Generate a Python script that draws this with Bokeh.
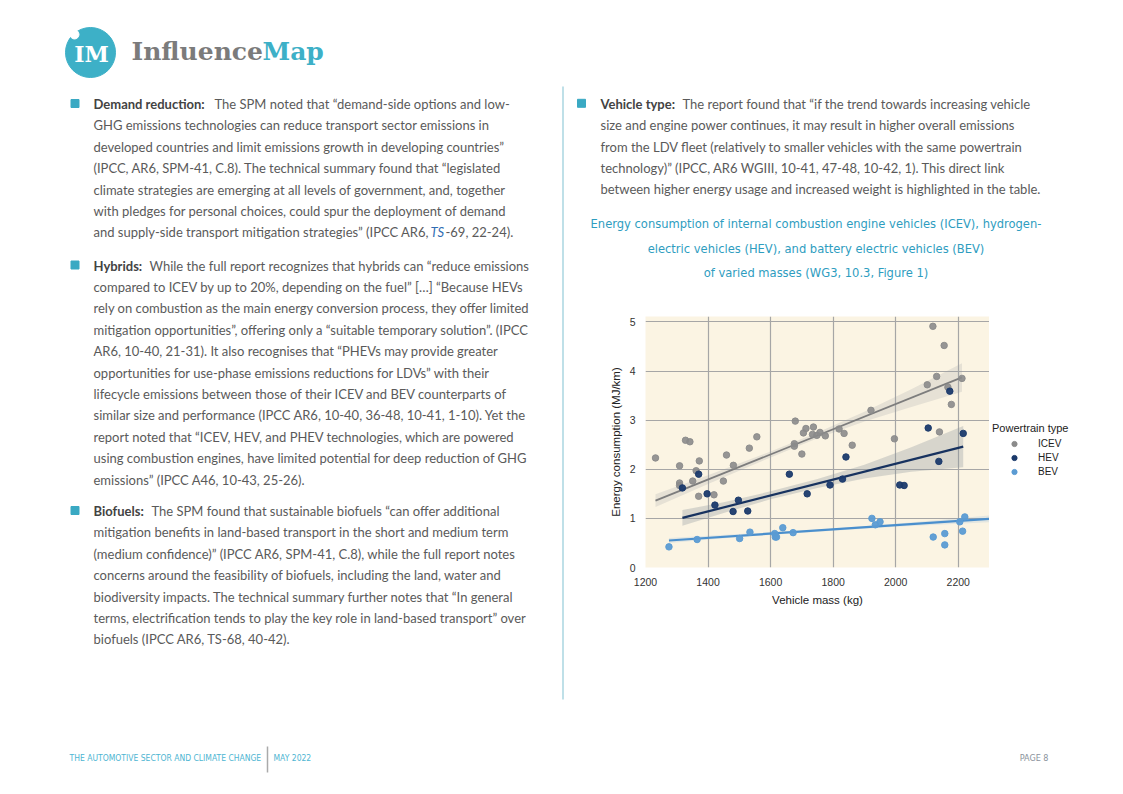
from bokeh.plotting import figure
from bokeh.layouts import row, column
from bokeh.models import Range1d, FixedTicker, Legend, LegendItem
from bokeh.core.properties import value
from bokeh.embed import file_html
from bokeh.resources import INLINE

# ---------------- data ----------------
icev_mass = [1232, 1309, 1328, 1342, 1309, 1309, 1351, 1362, 1372, 1370, 1459, 1449, 1481, 1419,
             1532, 1556, 1679, 1676, 1676, 1700, 1705, 1713, 1737, 1734, 1748, 1758, 1775, 1819,
             1835, 1861, 1921, 1996, 2101, 2131, 2119, 2155, 2167, 2178, 2140, 2212]
icev_energy = [2.23, 2.07, 2.59, 2.56, 1.72, 1.67, 1.76, 1.97, 2.17, 1.45, 2.29, 1.76, 2.08, 1.48,
               2.43, 2.66, 2.98, 2.52, 2.47, 2.31, 2.74, 2.83, 2.86, 2.71, 2.69, 2.75, 2.68, 2.82,
               2.73, 2.49, 3.20, 2.62, 3.72, 3.89, 4.91, 4.52, 3.67, 3.32, 2.76, 3.85]
hev_mass = [1318, 1370, 1397, 1422, 1480, 1497, 1527, 1660, 1717, 1790, 1830, 1841, 2013, 2027,
            2104, 2138, 2173, 2216]
hev_energy = [1.62, 1.90, 1.50, 1.27, 1.14, 1.37, 1.15, 1.90, 1.50, 1.68, 1.80, 2.25, 1.68, 1.67,
              2.84, 2.16, 3.59, 2.73]
bev_mass = [1275, 1365, 1501, 1534, 1613, 1615, 1619, 1639, 1672, 1924, 1935, 1950, 2120, 2157,
            2157, 2205, 2221, 2214]
bev_energy = [0.42, 0.57, 0.59, 0.72, 0.69, 0.62, 0.62, 0.81, 0.71, 1.00, 0.87, 0.93, 0.62, 0.69,
              0.46, 0.93, 1.03, 0.74]

# regression lines and confidence bands as drawn in the reference
icev_fit_x = [1232, 2212]
icev_fit_y = [1.36, 3.87]
icev_band_x = [1232, 1400, 1600, 1750, 1900, 2050, 2212]
icev_band_lo = [1.23, 1.70, 2.24, 2.63, 2.97, 3.27, 3.58]
icev_band_hi = [1.49, 1.88, 2.36, 2.75, 3.17, 3.63, 4.16]

hev_fit_x = [1318, 2216]
hev_fit_y = [1.01, 2.46]
hev_band_x = [1318, 1450, 1600, 1750, 1900, 2050, 2216]
hev_band_lo = [0.85, 1.11, 1.39, 1.62, 1.81, 1.95, 2.04]
hev_band_hi = [1.17, 1.33, 1.55, 1.80, 2.09, 2.45, 2.88]

bev_fit_x = [1275, 2300]
bev_fit_y = [0.55, 0.99]
bev_band_x = [1275, 1500, 1750, 2000, 2300]
bev_band_lo = [0.50, 0.62, 0.73, 0.83, 0.92]
bev_band_hi = [0.60, 0.68, 0.77, 0.89, 1.06]

x_ticks = [1200, 1400, 1600, 1800, 2000, 2200]
y_ticks = [0, 1, 2, 3, 4, 5]
series_names = ["ICEV", "HEV", "BEV"]
series_colors = ["#8b8b8b", "#1b3a6b", "#5b9bd3"]
legend_title = "Powertrain type"

title_lines = [
    "Energy consumption of internal combustion engine vehicles (ICEV), hydrogen-",
    "electric vehicles (HEV), and battery electric vehicles (BEV)",
    "of varied masses (WG3, 10.3, Figure 1)",
]

demand_label = "Demand reduction:"
demand_first = "The SPM noted that “demand-side options and low-"
demand_lines = [
    "GHG emissions technologies can reduce transport sector emissions in",
    "developed countries and limit emissions growth in developing countries”",
    "(IPCC, AR6, SPM-41, C.8). The technical summary found that “legislated",
    "climate strategies are emerging at all levels of government, and, together",
    "with pledges for personal choices, could spur the deployment of demand",
]
demand_last = ["and supply-side transport mitigation strategies” (IPCC AR6, ", "TS", "-69, 22-24)."]

hybrid_label = "Hybrids:"
hybrid_first = "While the full report recognizes that hybrids can “reduce emissions"
hybrid_lines = [
    "compared to ICEV by up to 20%, depending on the fuel” […] “Because HEVs",
    "rely on combustion as the main energy conversion process, they offer limited",
    "mitigation opportunities”, offering only a “suitable temporary solution”. (IPCC",
    "AR6, 10-40, 21-31). It also recognises that “PHEVs may provide greater",
    "opportunities for use-phase emissions reductions for LDVs” with their",
    "lifecycle emissions between those of their ICEV and BEV counterparts of",
    "similar size and performance (IPCC AR6, 10-40, 36-48, 10-41, 1-10). Yet the",
    "report noted that “ICEV, HEV, and PHEV technologies, which are powered",
    "using combustion engines, have limited potential for deep reduction of GHG",
    "emissions” (IPCC A46, 10-43, 25-26).",
]

bio_label = "Biofuels:"
bio_first = "The SPM found that sustainable biofuels “can offer additional"
bio_lines = [
    "mitigation benefits in land-based transport in the short and medium term",
    "(medium confidence)” (IPCC AR6, SPM-41, C.8), while the full report notes",
    "concerns around the feasibility of biofuels, including the land, water and",
    "biodiversity impacts. The technical summary further notes that “In general",
    "terms, electrification tends to play the key role in land-based transport” over",
    "biofuels (IPCC AR6, TS-68, 40-42).",
]

veh_label = "Vehicle type:"
veh_first = "The report found that “if the trend towards increasing vehicle"
veh_lines = [
    "size and engine power continues, it may result in higher overall emissions",
    "from the LDV fleet (relatively to smaller vehicles with the same powertrain",
    "technology)” (IPCC, AR6 WGIII, 10-41, 47-48, 10-42, 1). This direct link",
    "between higher energy usage and increased weight is highlighted in the table.",
]

footer_left = "THE AUTOMOTIVE SECTOR AND CLIMATE CHANGE"
footer_date = "MAY 2022"
footer_page = "PAGE 8"

# ---------------- styles ----------------
BODY = "#5a5a5a"
BOLD = "#434343"
TEAL = "#3aa9c3"
TITLE_C = "#2e9dbf"
FOOT_C = "#4db5d2"
BODY_FONT = "Lato"
NARROW = "Liberation Sans Narrow, DejaVu Sans Condensed, Liberation Sans"
FS = 13
LH = 21.4

SPLIT_X = 564      # left/right column boundary (page px)
PAGE_W = 1115
PAGE_H = 790
CH_TOP, CH_BOT = 300, 608   # chart canvas vertical extent
FRAME_L, FRAME_R = 645, 989  # chart plot-area horizontal extent


def page_fig(x0, x1, y0, y1):
    f = figure(width=x1 - x0, height=y1 - y0, x_range=Range1d(x0, x1), y_range=Range1d(y1, y0),
               output_backend="svg", toolbar_location=None, min_border=0, sizing_mode="fixed",
               frame_align=False,
               x_axis_location=None, y_axis_location=None, outline_line_color=None,
               background_fill_color="white", border_fill_color="white")
    f.grid.visible = False
    return f


def txt(f, xs, ys, ss, size=FS, color=BODY, font=BODY_FONT, style="normal", align="left"):
    f.text(x=xs, y=ys, text=ss, text_font=value(font), text_font_size=f"{size}px",
           text_color=color, text_font_style=style, text_align=align, text_baseline="middle")


def paragraph(f, x_text, x_rest, y0, label, first, lines, bullet_x):
    f.scatter(x=[bullet_x], y=[y0 - 0.5], marker="square", size=8, color=TEAL)
    txt(f, [x_text], [y0], [label], color=BOLD, style="bold")
    txt(f, [x_rest], [y0], [first])
    ys = [y0 + LH * (i + 1) for i in range(len(lines))]
    txt(f, [x_text] * len(lines), ys, lines)
    return y0 + LH * (len(lines) + 1)


# ---------------- left column ----------------
left = page_fig(0, SPLIT_X, 0, PAGE_H)
# logo
left.scatter(x=[90], y=[52], marker="circle", size=50, color="#3db0c7")
left.scatter(x=[74], y=[34], marker="circle", size=9, color="white")
txt(left, [91], [53], ["IM"], size=22, color="white", font="DejaVu Serif", style="bold", align="center")
txt(left, [131], [51], ["Influence"], size=25, color="#7b7b7b", font="DejaVu Serif", style="bold")
txt(left, [262], [51], ["Map"], size=25, color="#3db0c7", font="DejaVu Serif", style="bold")

ylast = paragraph(left, 93, 214, 103.5, demand_label, demand_first, demand_lines, 74.5)
txt(left, [93], [ylast], [demand_last[0]])
txt(left, [430], [ylast], [demand_last[1]], color="#2f6db3", style="italic")
txt(left, [445], [ylast], [demand_last[2]])

paragraph(left, 93, 149, 265, hybrid_label, hybrid_first, hybrid_lines, 74.5)
paragraph(left, 93, 151, 510.5, bio_label, bio_first, bio_lines, 74.5)

# divider and footer
left.line(x=[562.5, 562.5], y=[86, 699], line_color="#bfe0e8", line_width=2)
txt(left, [69], [757], [footer_left], size=8.5, color=FOOT_C, font=NARROW)
left.line(x=[267, 267], y=[746, 772], line_color="#aaaaaa", line_width=1.5)
txt(left, [273], [757], [footer_date], size=8.5, color=FOOT_C, font=NARROW)

# ---------------- right column, top ----------------
rtop = page_fig(SPLIT_X, PAGE_W, 0, CH_TOP)
paragraph(rtop, 600, 682, 103.3, veh_label, veh_first, veh_lines, 581)
txt(rtop, [815.5] * 3, [223, 248, 272], title_lines, size=12.8, color=TITLE_C, font=NARROW, align="center")

# ---------------- chart ----------------
chart = figure(width=FRAME_R - SPLIT_X, height=CH_BOT - CH_TOP,
               x_range=Range1d(1200, 2300), y_range=Range1d(0, 5.11),
               output_backend="svg", toolbar_location=None, sizing_mode="fixed",
               frame_align=False,
               min_border_left=FRAME_L - SPLIT_X, min_border_right=0,
               min_border_top=316 - CH_TOP, min_border_bottom=CH_BOT - 569,
               background_fill_color="#fbf4e3", border_fill_color="white", outline_line_color=None)
chart.xaxis.ticker = FixedTicker(ticks=x_ticks)
chart.yaxis.ticker = FixedTicker(ticks=y_ticks)
chart.xgrid.ticker = FixedTicker(ticks=x_ticks[1:])
chart.ygrid.ticker = FixedTicker(ticks=y_ticks[1:])
chart.grid.grid_line_color = "#a6a6a6"
chart.grid.grid_line_width = 1.2
for ax in (chart.xaxis[0], chart.yaxis[0]):
    ax.axis_line_color = None
    ax.major_tick_line_color = None
    ax.minor_tick_line_color = None
    ax.major_label_text_font = "Liberation Sans"
    ax.major_label_text_font_size = "10.5px"
    ax.major_label_text_color = "#333333"
    ax.axis_label_text_font = "Liberation Sans"
    ax.axis_label_text_font_size = "11.5px"
    ax.axis_label_text_font_style = "normal"
    ax.axis_label_text_color = "#222222"
    ax.major_label_standoff = 4
    ax.axis_label_standoff = 5
chart.xaxis.axis_label = "Vehicle mass (kg)"
chart.yaxis.axis_label = "Energy consumption (MJ/km)"

chart.varea(x=icev_band_x, y1=icev_band_lo, y2=icev_band_hi, fill_color="#9a9ea3", fill_alpha=0.22)
chart.varea(x=hev_band_x, y1=hev_band_lo, y2=hev_band_hi, fill_color="#8d959c", fill_alpha=0.32)
chart.varea(x=bev_band_x, y1=bev_band_lo, y2=bev_band_hi, fill_color="#5b9bd5", fill_alpha=0.15)
chart.line(icev_fit_x, icev_fit_y, line_color="#7d7d7d", line_width=1.8)
chart.line(hev_fit_x, hev_fit_y, line_color="#17325f", line_width=2.2)
chart.line(bev_fit_x, bev_fit_y, line_color="#4a8fcd", line_width=2.2)
chart.scatter(icev_mass, icev_energy, size=6.5, color=series_colors[0], alpha=0.9)
chart.scatter(hev_mass, hev_energy, size=6.5, color=series_colors[1], alpha=0.95)
chart.scatter(bev_mass, bev_energy, size=6.5, color=series_colors[2], alpha=0.95)

# ---------------- legend panel (to the right of the plot area) ----------------
legfig = page_fig(FRAME_R, PAGE_W, CH_TOP, CH_BOT)
leg_items = []
for name, col in zip(series_names, series_colors):
    # one off-canvas point per swatch renderer, so the legend can draw its marker
    r = legfig.scatter(x=[-9999], y=[-9999], size=6, color=col)
    leg_items.append(LegendItem(label=name, renderers=[r]))
legend = Legend(items=leg_items, title=legend_title, location=(3, 130))
legend.title_text_font = "Liberation Sans"
legend.title_text_font_size = "11px"
legend.title_text_font_style = "normal"
legend.title_text_color = "#222222"
legend.title_standoff = 3
legend.label_text_font = "Liberation Sans"
legend.label_text_font_size = "10px"
legend.label_text_color = "#222222"
legend.glyph_width = 44
legend.glyph_height = 13
legend.label_height = 13
legend.label_standoff = 2
legend.spacing = 1
legend.padding = 3
legend.margin = 0
legend.background_fill_alpha = 0
legend.border_line_color = None
legfig.add_layout(legend)

# ---------------- right column, bottom ----------------
rbot = page_fig(SPLIT_X, PAGE_W, CH_BOT, PAGE_H)
txt(rbot, [1048], [757], [footer_page], size=9, color="#8a939c", font=NARROW, align="right")

chart_row = row(chart, legfig, spacing=0, width=PAGE_W - SPLIT_X, height=CH_BOT - CH_TOP,
                sizing_mode="fixed")
right_col = column(rtop, chart_row, rbot, spacing=0, width=PAGE_W - SPLIT_X, height=PAGE_H,
                   sizing_mode="fixed")
layout = row(left, right_col, spacing=0, width=PAGE_W, height=PAGE_H, sizing_mode="fixed")

with open("out.html", "w", encoding="utf-8") as fh:
    fh.write(file_html(layout, INLINE))
